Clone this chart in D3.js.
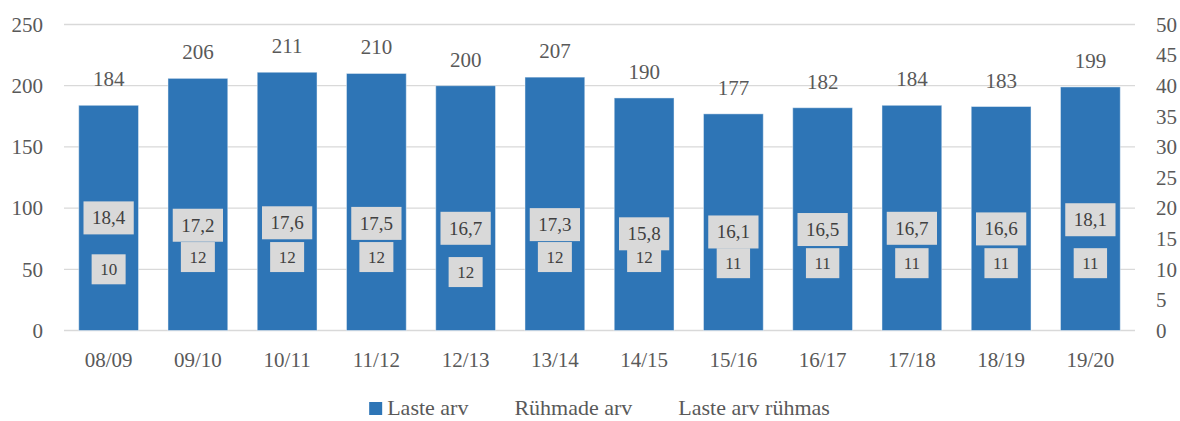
<!DOCTYPE html>
<html>
<head>
<meta charset="utf-8">
<script src="https://cdn.jsdelivr.net/npm/d3@7"></script>
<style>
  html, body { margin: 0; padding: 0; background: #fff; }
  svg { display: block; font-family: "Liberation Serif", "Times New Roman", serif; }
</style>
</head>
<body>
<svg id="chart" width="1180" height="421"></svg>
<script>
// ---- data ----
const categories = ["08/09","09/10","10/11","11/12","12/13","13/14","14/15","15/16","16/17","17/18","18/19","19/20"];
const lasteArv = [184, 206, 211, 210, 200, 207, 190, 177, 182, 184, 183, 199];
const ruhmadeArv = [10, 12, 12, 12, 12, 12, 12, 11, 11, 11, 11, 11];
const lasteArvRuhmas = [18.4, 17.2, 17.6, 17.5, 16.7, 17.3, 15.8, 16.1, 16.5, 16.7, 16.6, 18.1];
const leftTicks = [0, 50, 100, 150, 200, 250];
const rightTicks = [0, 5, 10, 15, 20, 25, 30, 35, 40, 45, 50];
const seriesNames = ["Laste arv", "Rühmade arv", "Laste arv rühmas"];

// ---- layout ----
const svg = d3.select("#chart");
const plotL = 64, plotR = 1135, plotT = 24.5, plotB = 330.5;
const barColor = "#2E75B6";
const gridColor = "#D9D9D9";
const textColor = "#595959";
const boxFill = "#D9D9D9";
const boxText = "#404040";
const serif = "Liberation Serif, Times New Roman, serif";

const x = d3.scaleBand().domain(categories).range([plotL, plotR]).paddingInner(0.33).paddingOuter(0.165);
const yL = d3.scaleLinear().domain([0, 250]).range([plotB, plotT]);
const yR = d3.scaleLinear().domain([0, 50]).range([plotB, plotT]);

// gridlines
svg.append("g").selectAll("line").data(leftTicks).join("line")
  .attr("x1", plotL).attr("x2", plotR)
  .attr("y1", d => yL(d)).attr("y2", d => yL(d))
  .attr("stroke", gridColor).attr("stroke-width", 1.3);

// left axis
const axL = d3.axisLeft(yL).tickValues(leftTicks).tickSize(0).tickPadding(0);
const gL = svg.append("g").attr("transform", `translate(43,0)`).call(axL);
gL.select(".domain").remove();
gL.attr("font-family", serif);
gL.selectAll("text").attr("font-size", 21).attr("fill", textColor);

// right axis
const axR = d3.axisRight(yR).tickValues(rightTicks).tickSize(0).tickPadding(0);
const gR = svg.append("g").attr("transform", `translate(1156,0)`).call(axR);
gR.select(".domain").remove();
gR.attr("font-family", serif);
gR.selectAll("text").attr("font-size", 21).attr("fill", textColor);

// bottom axis labels
const axB = d3.axisBottom(x).tickSize(0).tickPadding(0);
const gB = svg.append("g").attr("transform", `translate(0,${plotB})`).call(axB);
gB.select(".domain").remove();
gB.attr("font-family", serif);
gB.selectAll("text").attr("font-size", 21).attr("fill", textColor)
  .attr("dy", null).attr("y", 36);

// bars
svg.append("g").selectAll("rect").data(lasteArv).join("rect")
  .attr("x", (d, i) => x(categories[i]))
  .attr("width", x.bandwidth())
  .attr("y", d => yL(d))
  .attr("height", d => plotB - yL(d))
  .attr("fill", barColor)
  .attr("stroke", "rgba(255,255,255,0.45)").attr("stroke-width", 1);

// bar value labels
svg.append("g").selectAll("text").data(lasteArv).join("text")
  .attr("x", (d, i) => x(categories[i]) + x.bandwidth() / 2)
  .attr("y", d => yL(d) - 19)
  .attr("text-anchor", "middle")
  .attr("font-size", 21).attr("fill", textColor)
  .text(d => d);

// boxed labels for line series (lines themselves are not drawn)
const fmtComma = v => d3.format(".1f")(v).replace(".", ",");
const nudgeRuhmade = { 4: 15 }; // manually moved label (12/13)

function boxLabels(values, fmt, fontSize, boxH, nudge) {
  const g = svg.append("g");
  values.forEach((v, i) => {
    const cx = x(categories[i]) + x.bandwidth() / 2;
    const cy = yR(v) + ((nudge && nudge[i]) || 0);
    const lg = g.append("g");
    const rect = lg.append("rect").attr("fill", boxFill);
    const t = lg.append("text")
      .attr("x", cx).attr("y", cy)
      .attr("text-anchor", "middle").attr("dominant-baseline", "central")
      .attr("font-size", fontSize).attr("fill", boxText)
      .text(fmt(v));
    const w = t.node().getComputedTextLength() + 17;
    rect.attr("x", cx - w / 2).attr("y", cy - boxH / 2).attr("width", w).attr("height", boxH);
  });
}
boxLabels(ruhmadeArv, d => String(d), 17, 30, nudgeRuhmade);
boxLabels(lasteArvRuhmas, fmtComma, 19, 33, null);

// legend
const legend = svg.append("g");
const legendItems = seriesNames.map((name, i) => ({ name, marker: i === 0 }));
let cursor = 0;
legendItems.forEach(item => {
  const g = legend.append("g");
  let off = 0;
  if (item.marker) {
    g.append("rect").attr("x", 0).attr("y", -13).attr("width", 13).attr("height", 13).attr("fill", barColor);
    off = 18;
  }
  const t = g.append("text").attr("x", off).attr("y", 0)
    .attr("font-size", 22).attr("fill", textColor).text(item.name);
  const w = off + t.node().getComputedTextLength();
  g.attr("transform", `translate(${cursor},0)`);
  cursor += w + 46;
});
const totalW = cursor - 46;
legend.attr("transform", `translate(${(plotL + plotR) / 2 - totalW / 2},415)`);
</script>
</body>
</html>
